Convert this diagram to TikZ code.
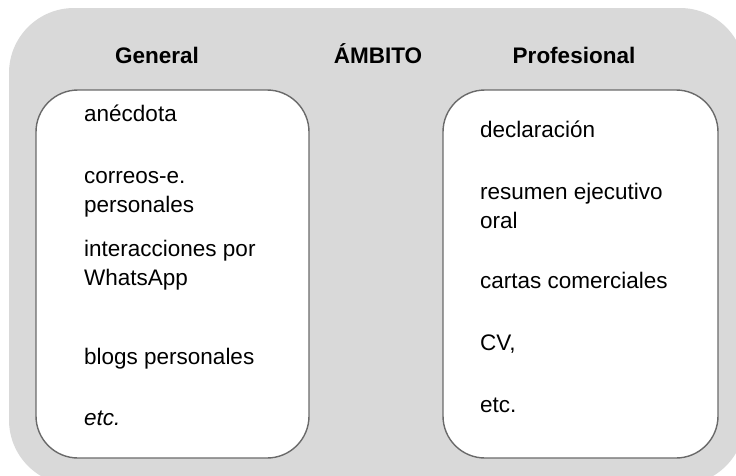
\documentclass[tikz,border=0pt]{standalone}
\usepackage{fontspec}
\setmainfont{Liberation Sans}
\definecolor{panelgray}{HTML}{D9D9D9}
\definecolor{edgegray}{HTML}{6A6A6A}
\begin{document}
\begin{tikzpicture}[x=1pt,y=-1pt]
\tikzset{
    box/.style={draw=edgegray,line width=1.4pt,fill=white,rounded corners=42pt},
    title/.style={font=\fontsize{22.5}{28}\selectfont\bfseries,anchor=base,inner sep=0pt},
    entry/.style={font=\fontsize{22.5}{28.5}\selectfont,anchor=base west,align=left,inner sep=0pt}
}
\useasboundingbox (0,0) rectangle (736,475);
\fill[panelgray,rounded corners=65pt] (9,8) rectangle (745,485);
\draw[box] (36,90) rectangle (309,458);
\draw[box] (443,90) rectangle (718,458);

\node[title] (gen) at (157,63) {General};
\node[title] (ambito) at (378,63) {ÁMBITO};
\node[title] (prof) at (574,63) {Profesional};

% general (two-line entries sit on their last line)
\node[entry] (gen1) at (84,121) {anécdota};
\node[entry] (gen2) at (84,212) {correos-e.\\personales};
\node[entry] (gen3) at (84,285) {interacciones por\\WhatsApp};
\node[entry] (gen4) at (84,364) {blogs personales};
\node[entry] (gen5) at (84,425) {\itshape etc.};

% profesional
\node[entry] (prof1) at (480,137) {declaración};
\node[entry] (prof2) at (480,228) {resumen ejecutivo\\oral};
\node[entry] (prof3) at (480,288) {cartas comerciales};
\node[entry] (prof4) at (480,350) {CV,};
\node[entry] (prof5) at (480,412) {etc.};
\end{tikzpicture}
\end{document}
